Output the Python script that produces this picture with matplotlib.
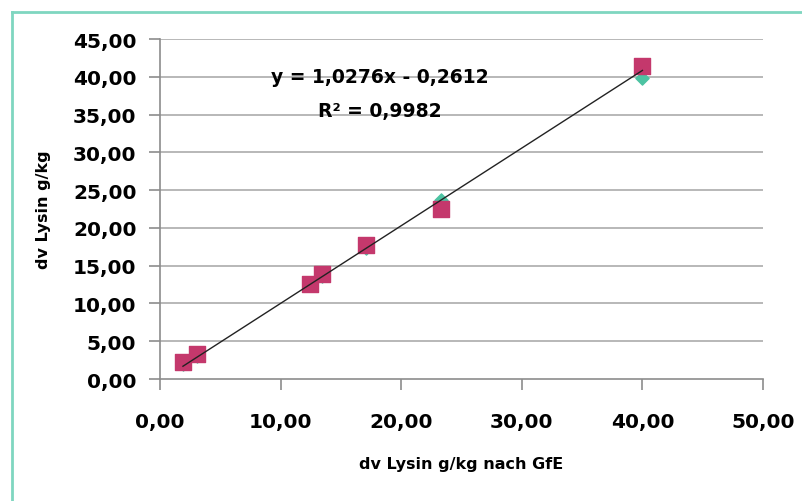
import matplotlib
matplotlib.use("Agg")
import matplotlib.pyplot as plt
from matplotlib.lines import Line2D

# measured values (pink squares) and second series (green, mostly hidden)
x_gfe = [1.9, 3.1, 12.4, 13.4, 17.1, 23.3, 40.0]
y_dv = [2.2, 3.3, 12.6, 13.9, 17.7, 22.5, 41.4]
y_calc = [2.0, 3.1, 12.5, 13.6, 17.3, 23.7, 39.8]

slope = 1.0276
intercept = -0.2612
r2 = 0.9982

x_ticks = [0, 10, 20, 30, 40, 50]
y_ticks = [0, 5, 10, 15, 20, 25, 30, 35, 40, 45]

def fmt(v, n=2):
    return f"{v:.{n}f}".replace(".", ",")

plt.rcParams['font.family'] = ['DejaVu Sans']
plt.rcParams['font.weight'] = 'bold'

fig = plt.figure(figsize=(8.03, 5.02), dpi=100)
ax = fig.add_axes([0.1993, 0.243, 0.7509, 0.6773])

grid_col = '#ababab'
for yv in y_ticks[1:]:
    ax.axhline(yv, color=grid_col, lw=1.2, zorder=0)

ax.scatter(x_gfe, y_calc, marker='D', s=45, color='#4cc3a2', zorder=2)
ax.scatter(x_gfe, y_dv, marker='s', s=120, color='#c4386c', zorder=3)

# linear trendline over the data range
xl = [min(x_gfe), max(x_gfe)]
ax.plot(xl, [slope * v + intercept for v in xl], color='#222222', lw=1.0, zorder=4)

ax.set_xlim(0, 50)
ax.set_ylim(0, 45)
ax.set_xticks(x_ticks)
ax.set_yticks(y_ticks)
ax.set_xticklabels([fmt(v) for v in x_ticks], fontsize=14.5, fontweight='bold')
ax.set_yticklabels([fmt(v) for v in y_ticks], fontsize=14.5, fontweight='bold')

for s in ['top', 'right']:
    ax.spines[s].set_visible(False)
for s in ['left', 'bottom']:
    ax.spines[s].set_color('#8c8c8c')
    ax.spines[s].set_linewidth(1.2)
ax.tick_params(axis='both', direction='out', length=8, width=1.2, color='#8c8c8c')
ax.tick_params(axis='x', pad=16)
ax.tick_params(axis='y', pad=9)

ax.set_xlabel("dv Lysin g/kg nach GfE", fontsize=11.5, fontweight='bold', labelpad=18)
ax.set_ylabel("dv Lysin g/kg", fontsize=11.5, fontweight='bold', labelpad=16)

eq = "y = " + fmt(slope, 4) + "x - " + fmt(abs(intercept), 4)
ax.text(18.2, 40.0, eq, fontsize=13.5, fontweight='bold', ha='center', va='center', zorder=5)
ax.text(18.2, 35.5, "R² = " + fmt(r2, 4), fontsize=13.5,
        fontweight='bold', ha='center', va='center', zorder=5)

border = '#7fd6c0'
fig.add_artist(Line2D([12 / 803, 1], [1 - 13 / 502, 1 - 13 / 502], color=border, lw=2))
fig.add_artist(Line2D([12 / 803, 12 / 803], [0, 1 - 13 / 502], color=border, lw=2))

fig.savefig("out.png", dpi=100)
